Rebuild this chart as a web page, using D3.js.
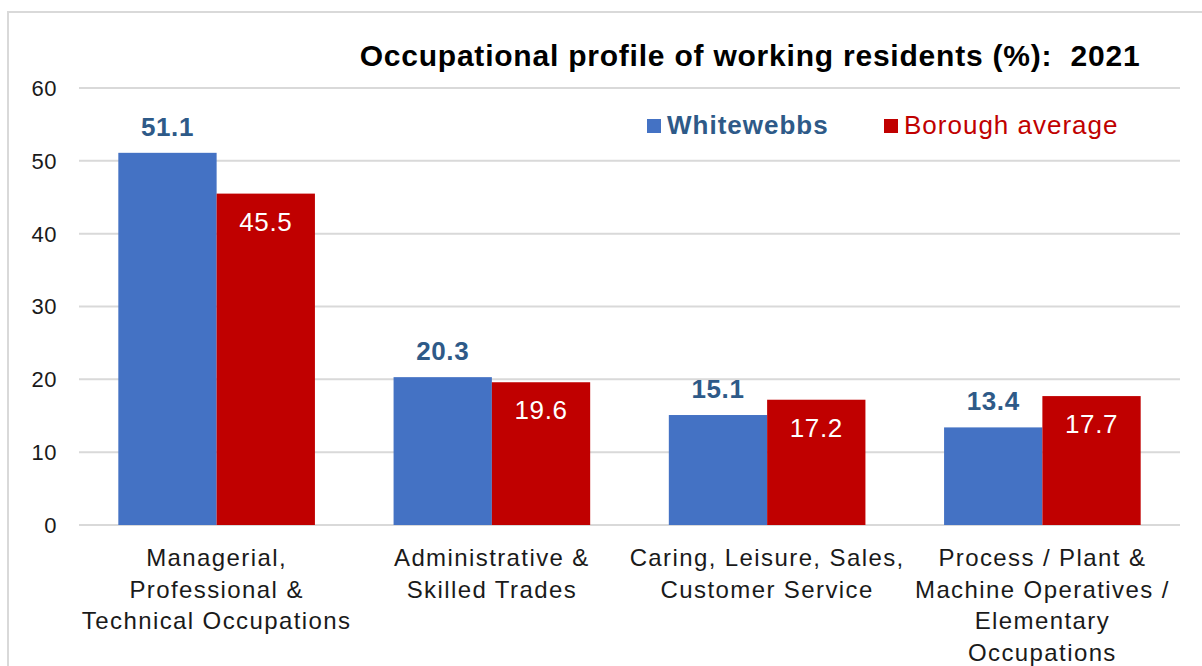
<!DOCTYPE html>
<html>
<head>
<meta charset="utf-8">
<script src="https://cdn.jsdelivr.net/npm/d3@7"></script>
<style>
  body { margin: 0; background: #fff; }
  svg { font-family: "Liberation Sans", Arial, sans-serif; }
</style>
</head>
<body>
<div id="chart"></div>
<script>
// Data
const categories = [
    ['Managerial,', 'Professional &', 'Technical Occupations'],
    ['Administrative &', 'Skilled Trades'],
    ['Caring, Leisure, Sales,', 'Customer Service'],
    ['Process / Plant &', 'Machine Operatives /', 'Elementary', 'Occupations']
];
const seriesNames = ['Whitewebbs', 'Borough average'];
const whitewebbs = [51.1, 20.3, 15.1, 13.4];
const borough = [45.5, 19.6, 17.2, 17.7];
const yTicks = [0, 10, 20, 30, 40, 50, 60];

const colors = { Whitewebbs: '#4472c4', 'Borough average': '#c00000' };

const width = 1202, height = 666;
const margin = { left: 79, right: 22, top: 88, bottom: 141 };

const svg = d3.select('#chart')
    .append('svg')
    .attr('width', width)
    .attr('height', height);

// Outer frame (only top and left edges fall inside the window)
svg.append('path')
    .attr('d', `M8,${height} L8,12 L${width},12`)
    .attr('fill', 'none')
    .attr('stroke', '#d9d9d9')
    .attr('stroke-width', 2);

const x0 = d3.scaleBand()
    .domain(d3.range(categories.length))
    .range([margin.left, width - margin.right])
    .padding(0);

const x1 = d3.scaleBand()
    .domain(seriesNames)
    .range([0, x0.bandwidth()])
    .paddingInner(0)
    .paddingOuter(0.4);

const y = d3.scaleLinear()
    .domain([0, 60])
    .range([height - margin.bottom, margin.top]);

// Gridlines
svg.append('g')
    .selectAll('line')
    .data(yTicks)
    .join('line')
    .attr('x1', margin.left)
    .attr('x2', width - margin.right)
    .attr('y1', d => y(d))
    .attr('y2', d => y(d))
    .attr('stroke', '#d9d9d9')
    .attr('stroke-width', 2);

// Y axis labels
svg.append('g')
    .selectAll('text')
    .data(yTicks)
    .join('text')
    .attr('x', 57)
    .attr('y', d => y(d))
    .attr('dy', '0.36em')
    .attr('text-anchor', 'end')
    .attr('font-size', 22)
    .attr('letter-spacing', 0.5)
    .attr('fill', '#1a1a1a')
    .text(d => d);

// Bars
const rows = categories.map((c, i) => ({
    i,
    values: [
        { key: 'Whitewebbs', value: whitewebbs[i] },
        { key: 'Borough average', value: borough[i] }
    ]
}));

const groups = svg.append('g')
    .selectAll('g')
    .data(rows)
    .join('g')
    .attr('transform', d => `translate(${x0(d.i)},0)`);

groups.selectAll('rect')
    .data(d => d.values)
    .join('rect')
    .attr('x', d => x1(d.key))
    .attr('width', x1.bandwidth())
    .attr('y', d => y(d.value))
    .attr('height', d => y(0) - y(d.value))
    .attr('fill', d => colors[d.key]);

// Data labels
groups.selectAll('text.val')
    .data(d => d.values)
    .join('text')
    .attr('class', 'val')
    .attr('x', d => x1(d.key) + x1.bandwidth() / 2)
    .attr('y', d => d.key === 'Whitewebbs' ? y(d.value) - 17 : y(d.value) + 37)
    .attr('text-anchor', 'middle')
    .attr('font-size', 26)
    .attr('letter-spacing', 0.6)
    .attr('font-weight', d => d.key === 'Whitewebbs' ? 'bold' : 'normal')
    .attr('fill', d => d.key === 'Whitewebbs' ? '#2e5a88' : '#ffffff')
    .text(d => d.value.toFixed(1));

// X axis labels
const xLabels = svg.append('g')
    .selectAll('text')
    .data(categories)
    .join('text')
    .attr('x', (d, i) => x0(i) + x0.bandwidth() / 2)
    .attr('y', 566)
    .attr('text-anchor', 'middle')
    .attr('font-size', 24)
    .attr('letter-spacing', 1.4)
    .attr('fill', '#1a1a1a');

xLabels.selectAll('tspan')
    .data(d => d)
    .join('tspan')
    .attr('x', function() { return d3.select(this.parentNode).attr('x'); })
    .attr('dy', (d, i) => i === 0 ? 0 : 31.5)
    .text(d => d);

// Title
svg.append('text')
    .attr('x', 750)
    .attr('y', 66)
    .attr('text-anchor', 'middle')
    .attr('font-size', 30)
    .attr('letter-spacing', 0.78)
    .attr('font-weight', 'bold')
    .attr('fill', '#000')
    .style('white-space', 'pre')
    .text('Occupational profile of working residents (%):  2021');

// Legend
const legendItems = [
    { key: 'Whitewebbs', x: 647, text: '#2e5a88', weight: 'bold' },
    { key: 'Borough average', x: 884, text: '#c00000', weight: 'normal' }
];

const legend = svg.append('g')
    .selectAll('g')
    .data(legendItems)
    .join('g')
    .attr('transform', d => `translate(${d.x},119)`);

legend.append('rect')
    .attr('width', 14)
    .attr('height', 14)
    .attr('fill', d => colors[d.key]);

legend.append('text')
    .attr('x', 20)
    .attr('y', 15)
    .attr('font-size', 26)
    .attr('letter-spacing', 1)
    .attr('font-weight', d => d.weight)
    .attr('fill', d => d.text)
    .text(d => d.key);
</script>
</body>
</html>
